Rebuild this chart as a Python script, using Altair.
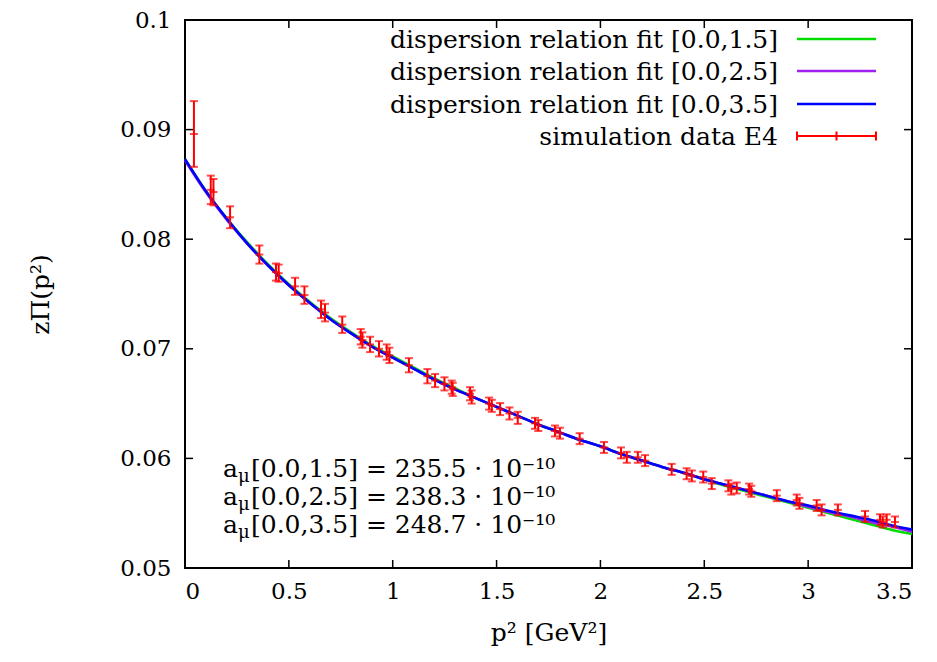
import altair as alt
import pandas as pd

# ---------------- data ----------------
p2_data = [0.043, 0.124, 0.137, 0.217, 0.358, 0.438, 0.451, 0.530, 0.575, 0.655,
           0.674, 0.757, 0.846, 0.854, 0.891, 0.934, 0.971, 0.984, 1.078, 1.167,
           1.204, 1.249, 1.284, 1.289, 1.372, 1.380, 1.464, 1.477, 1.517, 1.562,
           1.602, 1.685, 1.701, 1.781, 1.805, 1.900, 2.017, 2.099, 2.127, 2.180,
           2.215, 2.343, 2.415, 2.440, 2.495, 2.536, 2.616, 2.630, 2.656, 2.716,
           2.726, 2.849, 2.945, 2.958, 3.041, 3.065, 3.143, 3.274, 3.346, 3.359,
           3.378, 3.418]
zpi_data = [0.0896, 0.0845, 0.0843, 0.0820, 0.0786, 0.0770, 0.0769, 0.0757, 0.0749, 0.0736,
            0.0733, 0.0722, 0.0711, 0.0708, 0.0704, 0.0700, 0.0697, 0.0694, 0.0685, 0.0675,
            0.0671, 0.0668, 0.0665, 0.0663, 0.0659, 0.0656, 0.0650, 0.0648, 0.0645, 0.0641,
            0.0637, 0.0632, 0.0630, 0.0625, 0.0623, 0.0618, 0.0610, 0.0605, 0.0601, 0.0601,
            0.0598, 0.0590, 0.0586, 0.0584, 0.0583, 0.0577, 0.0575, 0.0572, 0.0573, 0.0572,
            0.0570, 0.0566, 0.0562, 0.0559, 0.0557, 0.0553, 0.0553, 0.0547, 0.0544, 0.0542,
            0.0544, 0.0542]
zpi_err = [0.0030, 0.0013, 0.0012, 0.0010, 0.00083, 0.00078, 0.00078, 0.00078, 0.0008, 0.0008,
           0.0008, 0.00075, 0.0007, 0.0007, 0.0007, 0.0007, 0.0007, 0.0007, 0.00065, 0.00065,
           0.0006, 0.0006, 0.0006, 0.0006, 0.0006, 0.0006, 0.00055, 0.00055, 0.00055, 0.00055,
           0.00055, 0.0005, 0.0005, 0.0005, 0.0005, 0.0005, 0.0005, 0.0005, 0.0005, 0.0005,
           0.0005, 0.0005, 0.0005, 0.0005, 0.0005, 0.0005, 0.0005, 0.0005, 0.0005, 0.0005,
           0.0005, 0.0005, 0.0005, 0.0005, 0.0005, 0.0005, 0.0005, 0.0005, 0.0005, 0.0005,
           0.0005, 0.0005]

fit_p2 = [0.0, 0.1, 0.2, 0.3, 0.4, 0.5, 0.6, 0.7, 0.8, 0.9, 1.0, 1.1, 1.2, 1.3, 1.4, 1.5,
          1.6, 1.7, 1.8, 1.9, 2.0, 2.1, 2.2, 2.3, 2.4, 2.5, 2.6, 2.7, 2.8, 2.9, 3.0, 3.1,
          3.2, 3.3, 3.4, 3.5]
fit_15 = [0.0873, 0.0844, 0.0819, 0.0797, 0.0777, 0.0759, 0.0743, 0.0728, 0.0715, 0.0703,
          0.0693, 0.0683, 0.0673, 0.0664, 0.0655, 0.0647, 0.0639, 0.0631, 0.0624, 0.0617,
          0.0611, 0.0604, 0.0598, 0.0592, 0.0587, 0.0581, 0.0575, 0.0570, 0.0565, 0.0560,
          0.0555, 0.0550, 0.0545, 0.0540, 0.0535, 0.0531]
fit_25 = [0.0872, 0.0843, 0.0818, 0.0796, 0.0776, 0.0758, 0.0742, 0.0727, 0.0714, 0.0702,
          0.0692, 0.0682, 0.0672, 0.0663, 0.0655, 0.0647, 0.0639, 0.0631, 0.0624, 0.0617,
          0.0611, 0.0604, 0.0598, 0.0592, 0.0587, 0.0581, 0.0576, 0.0571, 0.0566, 0.0561,
          0.0556, 0.0551, 0.0547, 0.0542, 0.0538, 0.0533]
fit_35 = [0.0873, 0.0844, 0.0819, 0.0796, 0.0776, 0.0758, 0.0742, 0.0727, 0.0714, 0.0702,
          0.0692, 0.0682, 0.0672, 0.0663, 0.0655, 0.0647, 0.0639, 0.0631, 0.0624, 0.0617,
          0.0611, 0.0604, 0.0598, 0.0592, 0.0587, 0.0581, 0.0576, 0.0571, 0.0566, 0.0561,
          0.0557, 0.0552, 0.0548, 0.0544, 0.0539, 0.0535]

x_ticks = [0, 0.5, 1, 1.5, 2, 2.5, 3, 3.5]
y_ticks = [0.05, 0.06, 0.07, 0.08, 0.09, 0.1]

legend_labels = ["dispersion relation fit [0.0,1.5]",
                 "dispersion relation fit [0.0,2.5]",
                 "dispersion relation fit [0.0,3.5]",
                 "simulation data E4"]
legend_colors = ["#00dd00", "#a020f0", "#0000ff", "#ff0000"]

annot_ranges = ["[0.0,1.5]", "[0.0,2.5]", "[0.0,3.5]"]
annot_values = ["235.5", "238.3", "248.7"]

# ---------------- layout ----------------
W, H = 727, 548
FONT = "DejaVu Serif"
xs = alt.Scale(domain=[0, 3.5], nice=False, zero=False)
ys = alt.Scale(domain=[0.05, 0.1], nice=False, zero=False)

x_axis = alt.Axis(values=x_ticks, format=".1~f", ticks=False, domain=False, grid=False,
                  labelFont=FONT, labelFontSize=23, labelColor="black", labelPadding=12,
                  title="p² [GeV²]", titleFont=FONT, titleFontSize=25, titleFontWeight="normal",
                  titleColor="black", titleX=W / 2, titleY=72, titleAlign="center",
                  titleBaseline="alphabetic")
y_axis = alt.Axis(values=y_ticks, format=".2~f", ticks=False, domain=False, grid=False,
                  labelFont=FONT, labelFontSize=23, labelColor="black", labelPadding=14,
                  title="zΠ(p²)", titleFont=FONT, titleFontSize=25, titleFontWeight="normal",
                  titleColor="black", titleX=-145, titleY=H / 2, titleAngle=-90,
                  titleAlign="center", titleBaseline="middle")

layers = []

# fit curves
for vals, col in zip([fit_15, fit_25, fit_35], legend_colors[:3]):
    df = pd.DataFrame({"p2": fit_p2, "z": vals})
    layers.append(
        alt.Chart(df).mark_line(color=col, strokeWidth=2.6, interpolate="monotone").encode(
            x=alt.X("p2:Q", scale=xs, axis=x_axis),
            y=alt.Y("z:Q", scale=ys, axis=y_axis),
        )
    )

# simulation data with error bars
dd = pd.DataFrame({"p2": p2_data, "z": zpi_data, "e": zpi_err})
dd["lo"] = dd["z"] - dd["e"]
dd["hi"] = dd["z"] + dd["e"]
red = legend_colors[3]
layers.append(
    alt.Chart(dd).mark_rule(color=red, strokeWidth=2).encode(
        x=alt.X("p2:Q", scale=xs, axis=x_axis),
        y=alt.Y("lo:Q", scale=ys, axis=y_axis),
        y2="hi:Q",
    )
)
for fld in ["lo", "hi", "z"]:
    layers.append(
        alt.Chart(dd).mark_tick(color=red, orient="horizontal", size=8, thickness=2).encode(
            x=alt.X("p2:Q", scale=xs, axis=x_axis),
            y=alt.Y(f"{fld}:Q", scale=ys, axis=y_axis),
        )
    )

# inward ticks on all four sides
TL = 8
xt = pd.DataFrame({"v": x_ticks})
yt = pd.DataFrame({"v": y_ticks})
layers.append(alt.Chart(xt).mark_rule(color="black", strokeWidth=1.5).encode(
    x=alt.X("v:Q", scale=xs, axis=x_axis), y=alt.value(H), y2=alt.value(H - TL)))
layers.append(alt.Chart(xt).mark_rule(color="black", strokeWidth=1.5).encode(
    x=alt.X("v:Q", scale=xs, axis=x_axis), y=alt.value(0), y2=alt.value(TL)))
layers.append(alt.Chart(yt).mark_rule(color="black", strokeWidth=1.5).encode(
    y=alt.Y("v:Q", scale=ys, axis=y_axis), x=alt.value(0), x2=alt.value(TL)))
layers.append(alt.Chart(yt).mark_rule(color="black", strokeWidth=1.5).encode(
    y=alt.Y("v:Q", scale=ys, axis=y_axis), x=alt.value(W), x2=alt.value(W - TL)))

# legend (top right)
leg_text_x = 593
leg_x1, leg_x2 = 612, 691
leg_rows = [19, 51, 84, 116]
one = pd.DataFrame({"k": [0]})
for lab, col, yy in zip(legend_labels, legend_colors, leg_rows):
    layers.append(alt.Chart(pd.DataFrame({"t": [lab]})).mark_text(
        font=FONT, fontSize=25, color="black", align="right", baseline="alphabetic").encode(
        text="t:N", x=alt.value(leg_text_x), y=alt.value(yy + 9)))
    layers.append(alt.Chart(one).mark_rule(color=col, strokeWidth=2.6 if col != red else 2).encode(
        x=alt.value(leg_x1), x2=alt.value(leg_x2), y=alt.value(yy)))
    if col == red:
        for xx in [leg_x1, (leg_x1 + leg_x2) / 2, leg_x2]:
            layers.append(alt.Chart(one).mark_rule(color=red, strokeWidth=2).encode(
                x=alt.value(xx), y=alt.value(yy - 4.5), y2=alt.value(yy + 4.5)))

# annotations (bottom left)
ann_x = 38
ann_rows = [457, 485, 513]
for rng, val, yy in zip(annot_ranges, annot_values, ann_rows):
    layers.append(alt.Chart(pd.DataFrame({"t": ["a"]})).mark_text(
        font=FONT, fontSize=25, color="black", align="left", baseline="alphabetic").encode(
        text="t:N", x=alt.value(ann_x), y=alt.value(yy)))
    layers.append(alt.Chart(pd.DataFrame({"t": ["μ"]})).mark_text(
        font=FONT, fontSize=18, color="black", align="left", baseline="alphabetic").encode(
        text="t:N", x=alt.value(ann_x + 15), y=alt.value(yy + 5)))
    layers.append(alt.Chart(pd.DataFrame({"t": [f"{rng} = {val} · 10⁻¹⁰"]})).mark_text(
        font=FONT, fontSize=25, color="black", align="left", baseline="alphabetic").encode(
        text="t:N", x=alt.value(ann_x + 28), y=alt.value(yy)))

chart = alt.layer(*layers).properties(
    width=W, height=H,
    autosize=alt.AutoSizeParams(type="none"),
    padding={"left": 177, "top": 12, "right": 12, "bottom": 80},
    background="white",
).configure_view(stroke="black", strokeWidth=2)

chart.save("out.html", embed_options={"renderer": "svg", "actions": False})
